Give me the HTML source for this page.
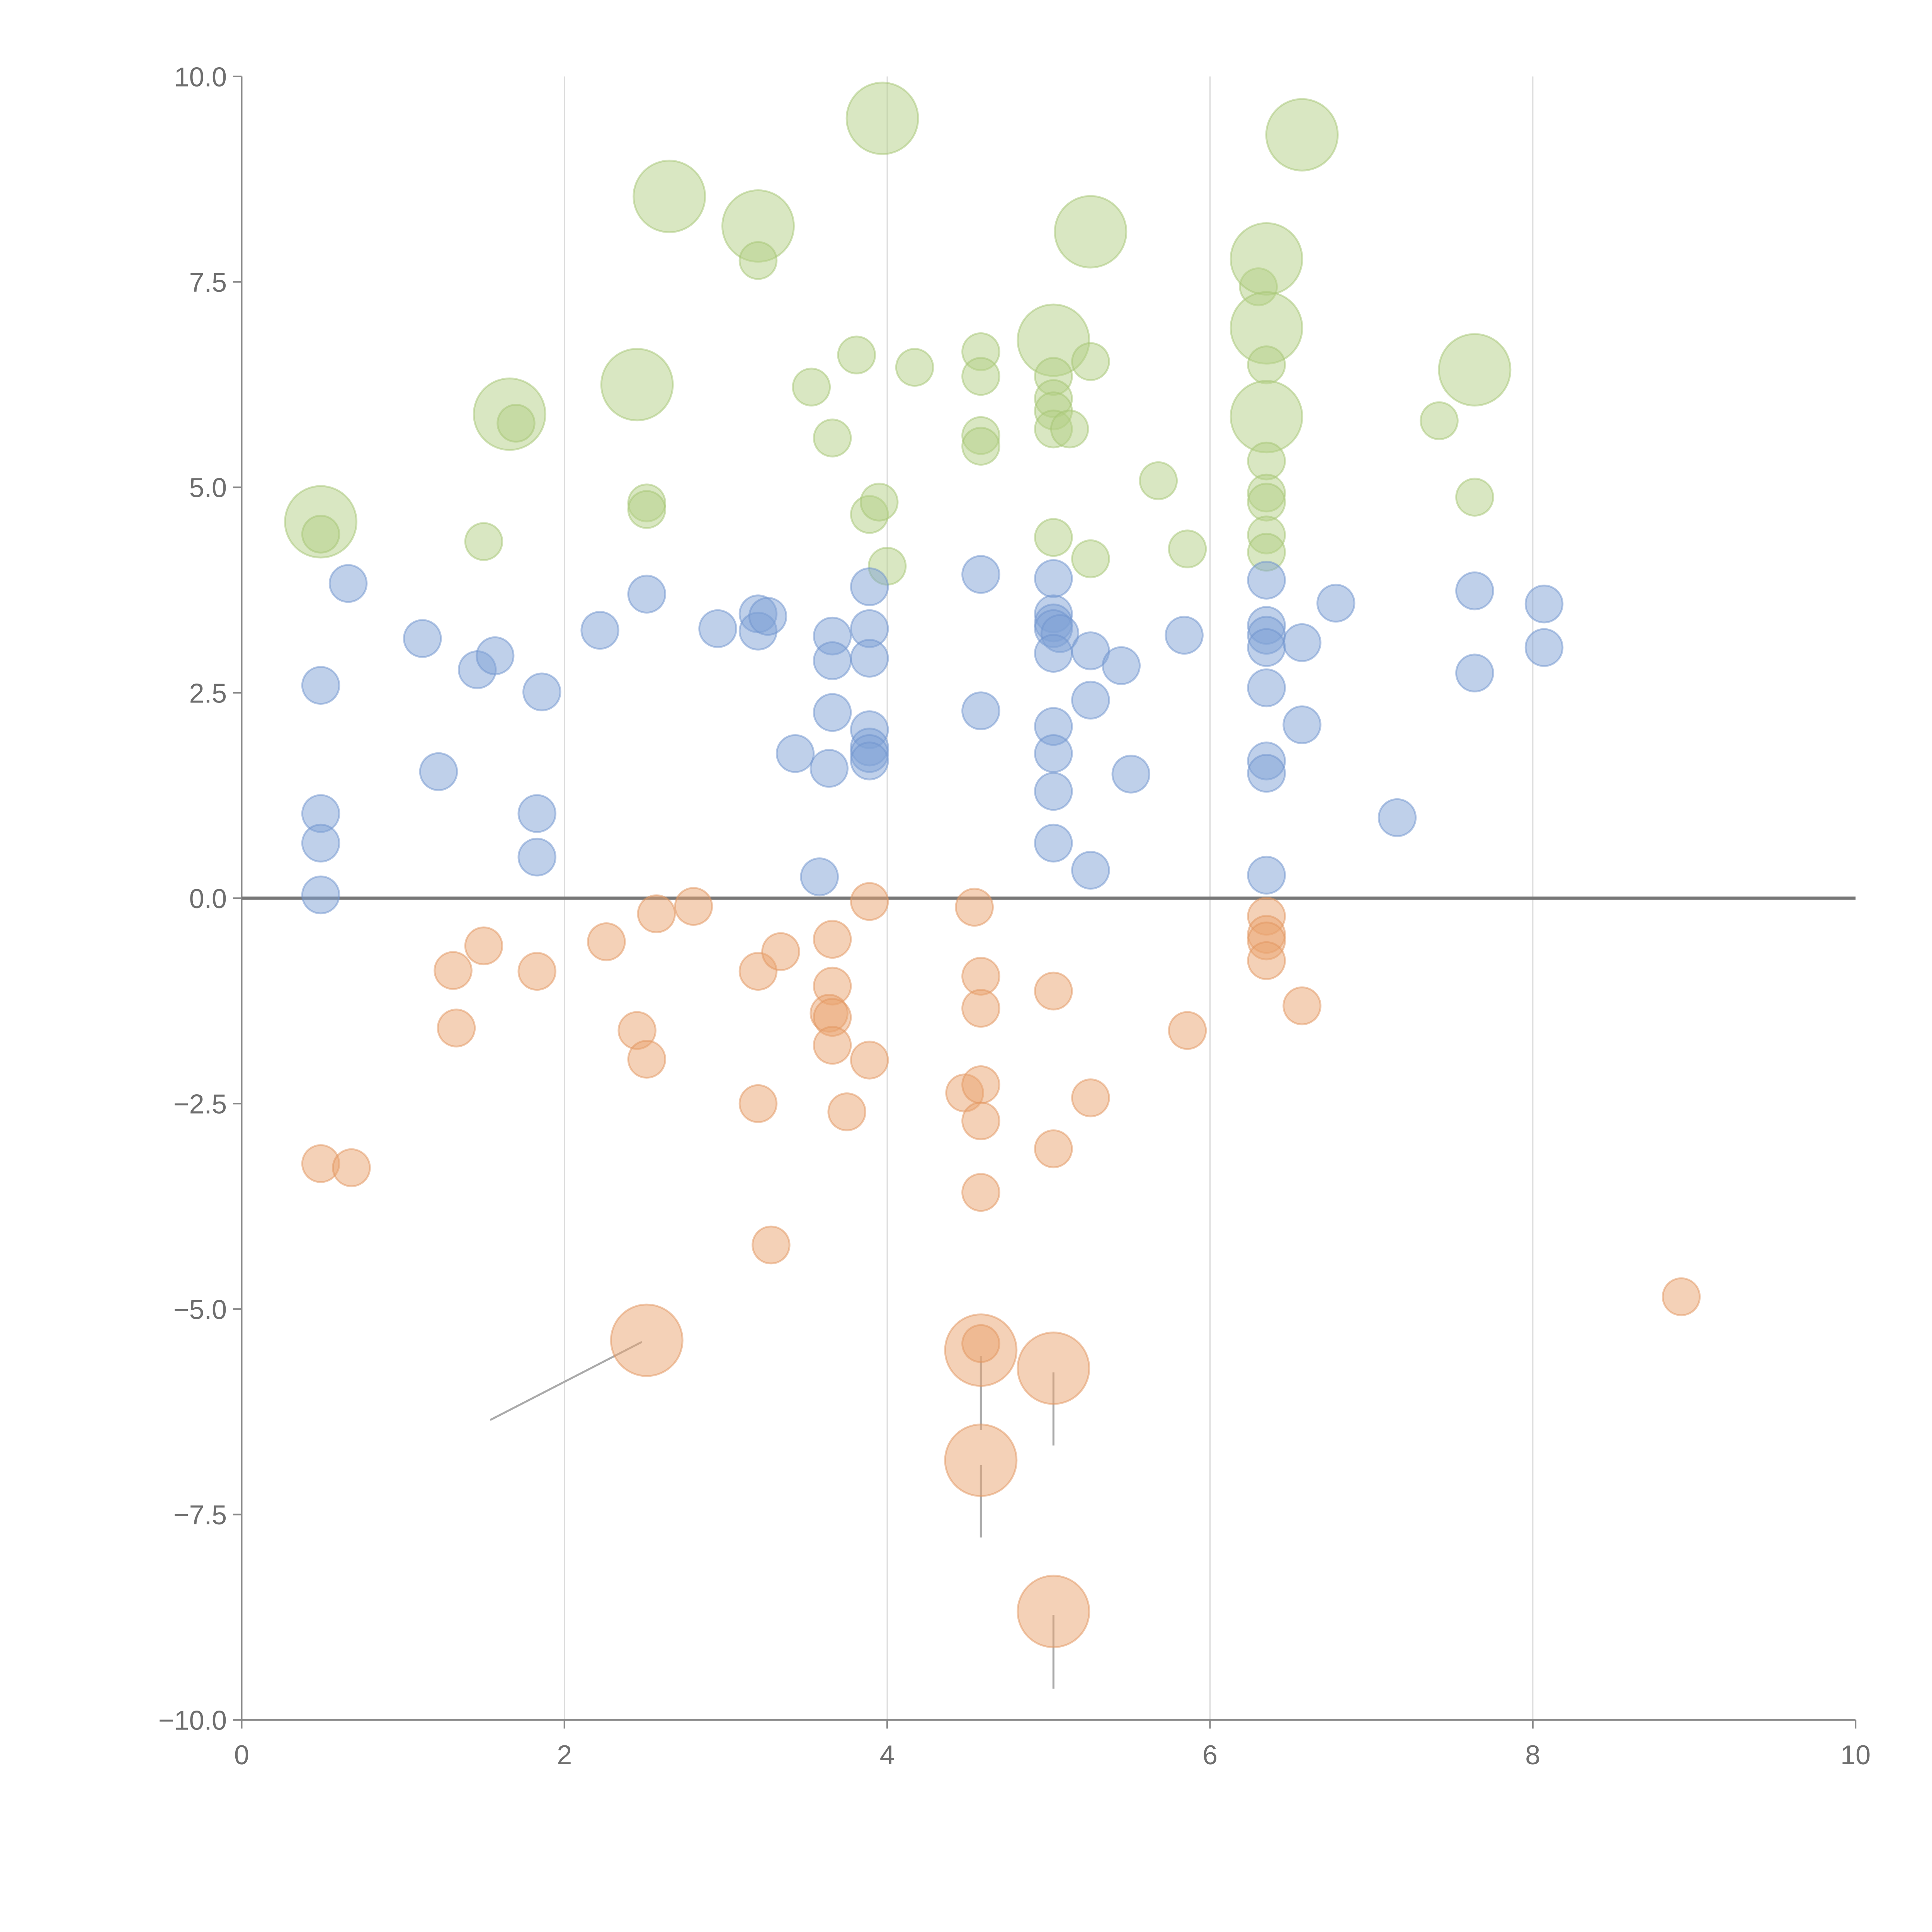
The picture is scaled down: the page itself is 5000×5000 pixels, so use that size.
<!DOCTYPE html>
<html><head><meta charset="utf-8"><style>
html,body{margin:0;padding:0;background:#fff}
svg{display:block}
text{font-family:"Liberation Sans",sans-serif;fill:#6e6e6e;font-size:22px}
</style></head><body>
<svg id="chart" width="5000" height="5000" viewBox="0 0 1567 1567" xmlns="http://www.w3.org/2000/svg">
<g id="grid"></g>
<g id="axes"></g>
<g id="leaders"></g>
<g id="marks"></g>
</svg>
<script>
const greenX=[0.49,0.49,1.50,1.66,1.70,2.45,2.51,2.51,2.65,3.20,3.20,3.53,3.66,3.81,3.89,3.95,3.97,4.00,4.17,4.58,4.58,4.58,4.58,5.03,5.03,5.03,5.03,5.03,5.03,5.13,5.26,5.26,5.26,5.68,5.86,6.30,6.35,6.35,6.35,6.35,6.35,6.35,6.35,6.35,6.35,6.57,7.42,7.64,7.64];
const greenY=[4.58,4.43,4.34,5.89,5.78,6.25,4.81,4.73,8.54,8.18,7.76,6.22,5.60,6.61,4.67,4.82,9.49,4.04,6.46,6.65,6.35,5.63,5.50,6.79,6.35,6.08,5.93,5.71,4.39,5.71,6.53,4.13,8.11,5.08,4.25,7.44,7.78,6.94,6.49,5.86,5.32,4.93,4.82,4.42,4.21,9.29,5.81,6.43,4.88];
const greenBig=[1,0,0,1,0,1,0,0,1,1,0,0,0,0,0,0,1,0,0,0,0,0,0,1,0,0,0,0,0,0,0,0,1,0,0,0,1,1,0,1,0,0,0,0,0,1,0,1,0];
const blueX=[0.66,0.49,0.49,0.49,0.49,1.12,1.22,1.46,1.57,1.83,1.86,1.83,2.22,2.51,2.95,3.20,3.20,3.26,3.43,3.58,3.64,3.66,3.66,3.66,3.89,3.89,3.89,3.89,3.89,3.89,3.89,4.58,4.58,5.03,5.03,5.03,5.03,5.07,5.03,5.03,5.03,5.03,5.03,5.26,5.26,5.26,5.45,5.51,5.84,6.35,6.35,6.35,6.35,6.35,6.35,6.35,6.35,6.57,6.57,6.78,7.16,7.64,7.64,8.07,8.07];
const blueY=[3.83,2.59,1.03,0.67,0.04,3.16,1.54,2.78,2.95,1.03,2.51,0.50,3.26,3.70,3.28,3.46,3.25,3.43,1.76,0.26,1.58,3.19,2.89,2.26,3.79,3.28,2.92,2.05,1.84,1.76,1.67,3.94,2.28,3.89,3.46,3.35,3.28,3.22,2.98,2.09,1.76,1.30,0.67,3.01,2.41,0.34,2.83,1.51,3.20,3.87,3.32,3.20,3.05,2.56,1.67,1.52,0.28,3.11,2.11,3.59,0.98,3.74,2.74,3.58,3.05];
const orangeX=[0.49,0.68,1.31,1.33,1.50,1.83,2.26,2.45,2.51,2.57,2.80,2.51,3.20,3.20,3.28,3.34,3.66,3.66,3.64,3.66,3.66,3.75,3.89,3.89,4.48,4.54,4.58,4.58,4.58,4.58,4.58,4.58,4.58,4.58,5.03,5.03,5.03,5.03,5.26,5.86,6.35,6.35,6.35,6.35,6.57,8.92];
const orangeY=[-3.23,-3.28,-0.88,-1.58,-0.58,-0.89,-0.53,-1.61,-1.96,-0.19,-0.10,-5.38,-0.89,-2.50,-4.22,-0.65,-0.50,-1.07,-1.40,-1.45,-1.79,-2.60,-0.04,-1.97,-2.37,-0.11,-0.95,-1.34,-2.27,-2.71,-3.58,-5.50,-5.42,-6.84,-1.13,-3.05,-5.72,-8.68,-2.43,-1.61,-0.22,-0.44,-0.52,-0.76,-1.31,-4.85];
const orangeBig=[0,0,0,0,0,0,0,0,0,0,0,1,0,0,0,0,0,0,0,0,0,0,0,0,0,0,0,0,0,0,0,1,0,1,0,0,1,1,0,0,0,0,0,0,0,0];
const xTicks=[0,2,4,6,8,10];
const yTicks=[-10,-7.5,-5,-2.5,0,2.5,5,7.5,10];
const gridX=[2,4,6,8];
const leaderFromX=[2.48,4.58,5.03,4.58,5.03];
const leaderFromY=[-5.40,-5.57,-5.77,-6.90,-8.72];
const leaderToX=[1.54,4.58,5.03,4.58,5.03];
const leaderToY=[-6.35,-6.47,-6.66,-7.78,-9.62];

const NS="http://www.w3.org/2000/svg";
const X0=196,X1=1505,Y0=1395,Y1=62;
const sx=v=>X0+(v-0)/10*(X1-X0);
const sy=v=>Y0-(v+10)/20*(Y0-Y1);
function mk(tag,attrs,parent){const e=document.createElementNS(NS,tag);for(const k in attrs)e.setAttribute(k,attrs[k]);parent.appendChild(e);return e;}
const grid=document.getElementById('grid'),axes=document.getElementById('axes'),marks=document.getElementById('marks'),leaders=document.getElementById('leaders');
gridX.forEach(v=>{const l=mk('line',{x1:sx(v),x2:sx(v),y1:Y1,y2:Y0,stroke:'#dcdcdc','stroke-width':1},grid);

});
let a=mk('line',{x1:X0,x2:X0,y1:Y1,y2:Y0,stroke:'#888','stroke-width':1.3},axes);


a=mk('line',{x1:X0,x2:X1,y1:Y0,y2:Y0,stroke:'#888','stroke-width':1.3},axes);


a=mk('line',{x1:X0,x2:X1,y1:sy(0),y2:sy(0),stroke:'#777','stroke-width':2.6},axes);


xTicks.forEach(v=>{const t=mk('line',{x1:sx(v),x2:sx(v),y1:Y0,y2:Y0+7,stroke:'#888','stroke-width':1.3},axes);


const tx=mk('text',{x:sx(v),y:Y0+36,'text-anchor':'middle'},axes);tx.textContent=String(v);

});
yTicks.forEach(v=>{const t=mk('line',{x1:X0-7,x2:X0,y1:sy(v),y2:sy(v),stroke:'#888','stroke-width':1.3},axes);


const tx=mk('text',{x:X0-12,y:sy(v)+8,'text-anchor':'end'},axes);tx.textContent=(v<0?'\u2212':'')+Math.abs(v).toFixed(1);

});
leaderFromX.forEach((v,i)=>{const l=mk('line',{x1:sx(v),y1:sy(leaderFromY[i]),x2:sx(leaderToX[i]),y2:sy(leaderToY[i]),stroke:'#aaa','stroke-width':1.6},leaders);

});
function series(xs,ys,big,fill,stroke,name){xs.forEach((v,i)=>{const r=big&&big[i]?29:15;
const c=mk('circle',{cx:sx(v),cy:sy(ys[i]),r:r,fill:fill,'fill-opacity':0.5,stroke:stroke,'stroke-opacity':0.5,'stroke-width':1.5},marks);

});}
series(greenX,greenY,greenBig,'#b3cf86','#a5c573','green-bubble');
series(blueX,blueY,null,'#7fa2d6','#6f94cd','blue-bubble');
series(orangeX,orangeY,orangeBig,'#e9a46f','#e29560','orange-bubble');
</script>
</body></html>
